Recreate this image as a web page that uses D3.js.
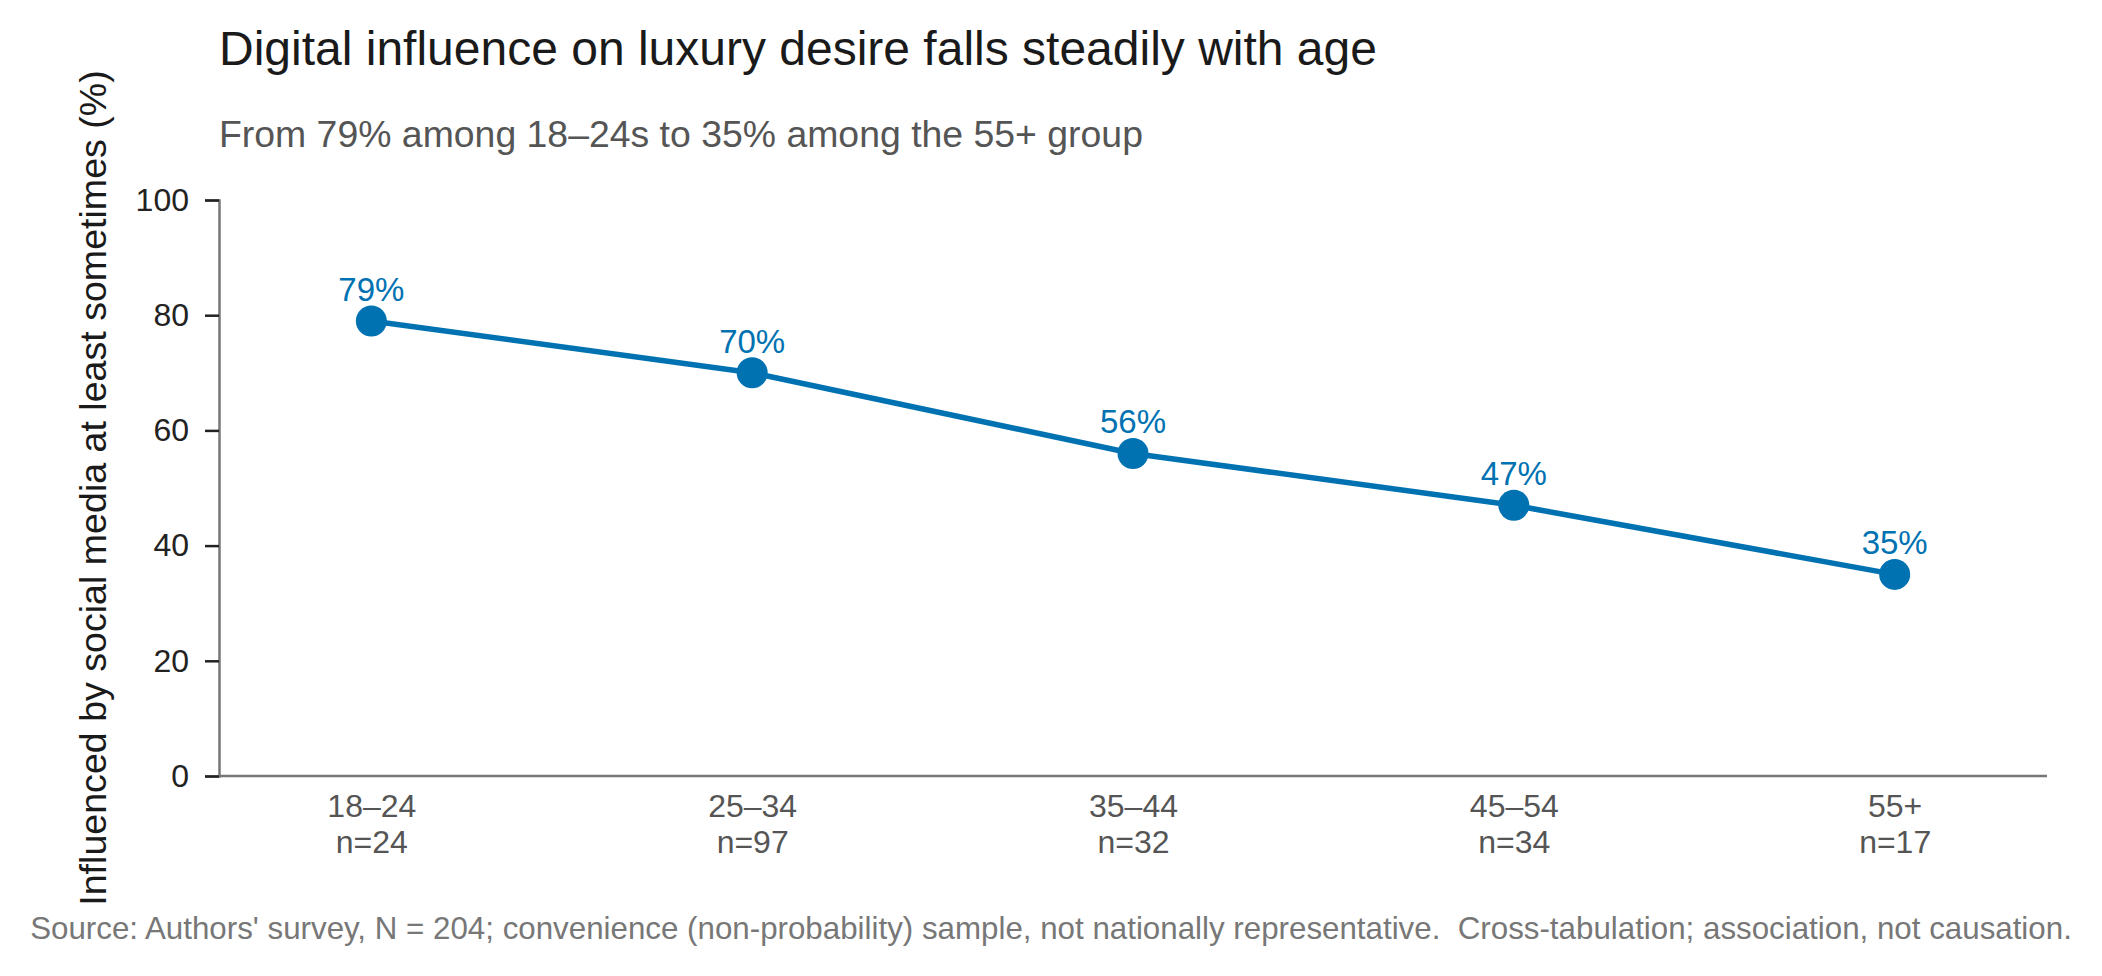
<!DOCTYPE html>
<html>
<head>
<meta charset="utf-8">
<script src="https://cdn.jsdelivr.net/npm/d3@7"></script>
<style>
  html, body { margin: 0; padding: 0; background: #fff; }
  svg { display: block; font-family: "Liberation Sans", Arial, Helvetica, sans-serif; }
</style>
</head>
<body>
<svg id="chart" width="2102" height="976"></svg>
<script>
// ---- data ----
const ageGroups = ["18–24", "25–34", "35–44", "45–54", "55+"];
const sampleSizes = [24, 97, 32, 34, 17];
const influencedPct = [79, 70, 56, 47, 35];
const yTicks = [0, 20, 40, 60, 80, 100];

const titleText = "Digital influence on luxury desire falls steadily with age";
const subtitleText = "From 79% among 18–24s to 35% among the 55+ group";
const yLabelText = "Influenced by social media at least sometimes (%)";
const sourceText = "Source: Authors' survey, N = 204; convenience (non-probability) sample, not nationally representative.  Cross-tabulation; association, not causation.";

// ---- layout ----
const W = 2102, H = 976;
const m = { left: 219, right: 55, top: 200, bottom: 200 };
const blue = "#0072B2";

const svg = d3.select("#chart");

const x = d3.scalePoint().domain(ageGroups).range([m.left, W - m.right]).padding(0.4);
const y = d3.scaleLinear().domain([0, 100]).range([H - m.bottom, m.top]);

// title & subtitle
svg.append("text").attr("x", m.left).attr("y", 65)
  .attr("font-size", 48).attr("fill", "#1a1a1a").text(titleText);
svg.append("text").attr("x", m.left).attr("y", 147)
  .attr("font-size", 37.4).attr("fill", "#555").text(subtitleText);

// y axis
const yAxis = svg.append("g").attr("transform", `translate(${m.left},0)`)
  .call(d3.axisLeft(y).tickValues(yTicks).tickSize(14).tickPadding(16).tickFormat(d3.format("d")));
yAxis.select(".domain").attr("stroke", "#777").attr("stroke-width", 2.5);
yAxis.selectAll(".tick line").attr("stroke", "#222").attr("stroke-width", 2.5);
yAxis.selectAll(".tick text").attr("font-size", 32).attr("fill", "#222")
  .attr("font-family", "'Liberation Sans', Arial, Helvetica, sans-serif");

// x axis
const xAxis = svg.append("g").attr("transform", `translate(0,${y(0)})`)
  .call(d3.axisBottom(x).tickSize(0).tickPadding(0).tickFormat(() => ""));
xAxis.select(".domain").attr("stroke", "#777").attr("stroke-width", 2.5)
  .attr("d", `M${m.left},0H${W - m.right}`);
xAxis.selectAll(".tick text").remove();
xAxis.selectAll(".tick").each(function(d, i) {
  const t = d3.select(this).append("text")
    .attr("text-anchor", "middle").attr("fill", "#555").attr("font-size", 32)
    .attr("font-family", "'Liberation Sans', Arial, Helvetica, sans-serif");
  t.append("tspan").attr("x", 0).attr("y", 41).text(d);
  t.append("tspan").attr("x", 0).attr("y", 77).text("n=" + sampleSizes[i]);
});

// y label
svg.append("text")
  .attr("transform", `translate(106,${(y(0) + y(100)) / 2}) rotate(-90)`)
  .attr("text-anchor", "middle").attr("font-size", 37.6).attr("fill", "#1a1a1a")
  .text(yLabelText);

// line + points
const pts = ageGroups.map((g, i) => ({ g, v: influencedPct[i] }));
const line = d3.line().x(d => x(d.g)).y(d => y(d.v));
svg.append("path").datum(pts).attr("d", line)
  .attr("fill", "none").attr("stroke", blue).attr("stroke-width", 5.5)
  .attr("stroke-linejoin", "round");
svg.selectAll("circle.pt").data(pts).join("circle").attr("class", "pt")
  .attr("cx", d => x(d.g)).attr("cy", d => y(d.v)).attr("r", 15.5).attr("fill", blue);
svg.selectAll("text.lbl").data(pts).join("text").attr("class", "lbl")
  .attr("x", d => x(d.g)).attr("y", d => y(d.v) - 20)
  .attr("text-anchor", "middle").attr("font-size", 33).attr("fill", blue)
  .text(d => d.v + "%");

// source
svg.append("text").attr("x", W / 2).attr("y", 939)
  .attr("text-anchor", "middle").attr("font-size", 31.3).attr("fill", "#777")
  .style("white-space", "pre").text(sourceText);
</script>
</body>
</html>
